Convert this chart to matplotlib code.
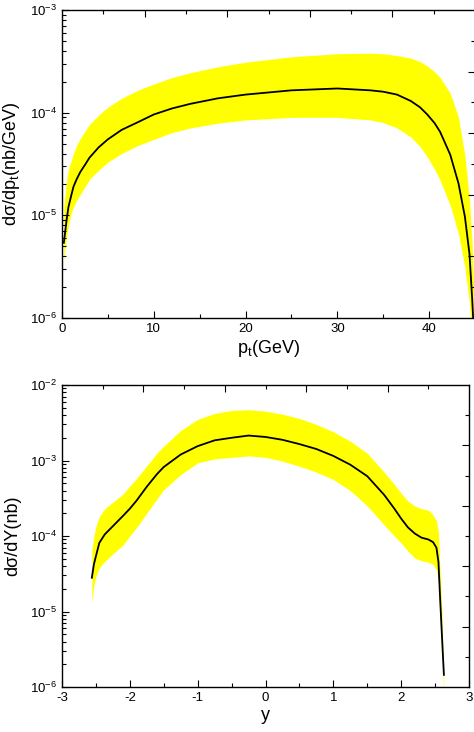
import matplotlib.pyplot as plt
import numpy as np
from matplotlib.ticker import LogLocator, MultipleLocator, NullFormatter, FixedLocator

plt.rcParams['font.family'] = ['Liberation Sans', 'DejaVu Sans']
plt.rcParams['mathtext.fontset'] = 'custom'
plt.rcParams['mathtext.rm'] = 'Liberation Sans'
plt.rcParams['mathtext.it'] = 'Liberation Sans:italic'
plt.rcParams['axes.unicode_minus'] = False

# top panel: pt distribution
pt = [0.2, 0.5, 0.7, 1.0, 1.25, 1.6, 2.0, 2.5, 3.0, 4.0, 5.0, 6.5, 8.3, 10, 12, 14, 17, 20, 25, 30,
      33.6, 35, 36.5, 38, 39, 39.8, 40.6, 41.2, 42.3, 43.2, 43.9, 44.4, 44.7, 44.85]
pt_mid = [5.4e-6, 9e-6, 1.2e-5, 1.55e-5, 1.9e-5, 2.25e-5, 2.65e-5, 3.1e-5, 3.65e-5, 4.6e-5,
          5.5e-5, 6.8e-5, 8.1e-5, 9.6e-5, 1.1e-4, 1.22e-4, 1.38e-4, 1.5e-4, 1.65e-4, 1.72e-4,
          1.65e-4, 1.6e-4, 1.5e-4, 1.3e-4, 1.13e-4, 9.6e-5, 7.9e-5, 6.5e-5, 3.9e-5, 2.05e-5,
          9.7e-6, 4.2e-6, 1.5e-6, 8e-7]
pt_hi = [1.2e-5, 2.2e-5, 2.8e-5, 3.4e-5, 4.0e-5, 4.8e-5, 5.6e-5, 6.6e-5, 7.7e-5, 9.5e-5,
         1.13e-4, 1.38e-4, 1.66e-4, 1.9e-4, 2.2e-4, 2.45e-4, 2.8e-4, 3.1e-4, 3.5e-4, 3.75e-4,
         3.8e-4, 3.75e-4, 3.6e-4, 3.4e-4, 3.15e-4, 2.85e-4, 2.5e-4, 2.2e-4, 1.55e-4, 9e-5,
         3.8e-5, 1.4e-5, 5e-6, 2e-6]
pt_lo = [3.6e-6, 6.2e-6, 8e-6, 1.05e-5, 1.2e-5, 1.4e-5, 1.6e-5, 1.9e-5, 2.25e-5, 2.75e-5,
         3.3e-5, 4.0e-5, 4.8e-5, 5.5e-5, 6.4e-5, 7.1e-5, 7.9e-5, 8.5e-5, 9e-5, 9e-5,
         8.5e-5, 8e-5, 7.1e-5, 5.8e-5, 4.7e-5, 3.7e-5, 2.8e-5, 2.2e-5, 1.25e-5, 6.6e-6,
         3.1e-6, 1.4e-6, 6e-7, 5e-7]

# bottom panel: rapidity distribution
rap = [-2.56, -2.53, -2.5, -2.45, -2.37, -2.25, -2.1, -2.0, -1.9, -1.75, -1.6, -1.5, -1.25,
       -1.0, -0.75, -0.5, -0.25, 0, 0.25, 0.5, 0.75, 1.0, 1.25, 1.5, 1.75, 1.9, 2.0, 2.1, 2.2,
       2.3, 2.4, 2.47, 2.52, 2.55, 2.57, 2.6, 2.63]
rap_mid = [2.8e-5, 4.2e-5, 5.4e-5, 8.1e-5, 1.05e-4, 1.35e-4, 1.85e-4, 2.3e-4, 2.95e-4, 4.5e-4,
           6.6e-4, 8.2e-4, 1.2e-3, 1.55e-3, 1.85e-3, 2.0e-3, 2.14e-3, 2.05e-3, 1.88e-3, 1.65e-3,
           1.42e-3, 1.15e-3, 8.8e-4, 6.2e-4, 3.5e-4, 2.3e-4, 1.7e-4, 1.3e-4, 1.08e-4, 9.5e-5,
           9e-5, 8.3e-5, 7e-5, 4.5e-5, 1.8e-5, 5e-6, 1.45e-6]
rap_hi = [6.6e-5, 1.0e-4, 1.35e-4, 1.8e-4, 2.3e-4, 2.8e-4, 3.6e-4, 4.6e-4, 5.8e-4, 8.5e-4,
          1.25e-3, 1.55e-3, 2.5e-3, 3.5e-3, 4.2e-3, 4.6e-3, 4.7e-3, 4.5e-3, 4.1e-3, 3.6e-3,
          3.0e-3, 2.4e-3, 1.8e-3, 1.25e-3, 7e-4, 4.8e-4, 3.7e-4, 2.9e-4, 2.5e-4, 2.3e-4,
          2.2e-4, 1.9e-4, 1.6e-4, 1.1e-4, 4e-5, 1e-5, 1e-6]
rap_lo = [1.3e-5, 2.2e-5, 2.9e-5, 3.8e-5, 4.6e-5, 5.8e-5, 7.6e-5, 1.0e-4, 1.3e-4, 2e-4,
          3.1e-4, 4.1e-4, 6.5e-4, 9.3e-4, 1.05e-3, 1.1e-3, 1.15e-3, 1.1e-3, 9.8e-4, 8.4e-4,
          7e-4, 5.6e-4, 4e-4, 2.5e-4, 1.4e-4, 1.0e-4, 8.1e-5, 6.3e-5, 5.1e-5, 4.7e-5,
          4.5e-5, 4.2e-5, 3.6e-5, 2.4e-5, 9e-6, 3e-6, 8e-7]

fig = plt.figure(figsize=(4.74, 7.32), dpi=100)
ax1 = fig.add_axes([62 / 474, 1 - 318 / 732, 413 / 474, 308 / 732])
ax2 = fig.add_axes([62 / 474, 1 - 687 / 732, 407 / 474, 302 / 732])


def style(ax, xmajor, xminor):
    ax.set_yscale('log')
    ax.xaxis.set_major_locator(MultipleLocator(xmajor))
    ax.xaxis.set_minor_locator(MultipleLocator(xminor))
    ax.yaxis.set_major_locator(LogLocator(base=10, numticks=10))
    ax.yaxis.set_minor_locator(LogLocator(base=10, subs=np.arange(2, 10), numticks=20))
    ax.yaxis.set_minor_formatter(NullFormatter())
    ax.tick_params(which='both', direction='in', labelsize=9.5, width=0.8)
    ax.tick_params(which='major', length=5)
    ax.tick_params(which='minor', length=3)
    for s in ax.spines.values():
        s.set_linewidth(1.0)
    # Origin-style decorative ticks on top and right
    tw = ax.inset_axes([0, 0, 1, 1])
    tw.patch.set_visible(False)
    tw.set_xlim(0, 1)
    tw.set_ylim(0, 1)
    for s in tw.spines.values():
        s.set_visible(False)
    tw.xaxis.tick_top()
    tw.yaxis.tick_right()
    tw.xaxis.set_major_locator(FixedLocator([0.2, 0.4, 0.6, 0.8]))
    tw.xaxis.set_minor_locator(FixedLocator([0.1, 0.3, 0.5, 0.7, 0.9]))
    tw.yaxis.set_major_locator(FixedLocator([0.2, 0.4, 0.6, 0.8]))
    tw.yaxis.set_minor_locator(FixedLocator([0.1, 0.3, 0.5, 0.7, 0.9]))
    tw.tick_params(which='both', direction='in', labeltop=False, labelright=False, width=0.8)
    tw.tick_params(which='major', length=5)
    tw.tick_params(which='minor', length=3)


ax1.fill_between(pt, pt_lo, pt_hi, color='#ffff00', lw=0)
ax1.plot(pt, pt_mid, color='black', lw=1.3)
ax1.set_xlim(0, 45)
ax1.set_ylim(1e-6, 1e-3)
style(ax1, 10, 5)
ax1.set_xlabel('p$_\\mathrm{t}$(GeV)', fontsize=13, labelpad=2)
ax1.set_ylabel('dσ/dp$_\\mathrm{t}$(nb/GeV)', fontsize=13, labelpad=6)

ax2.fill_between(rap, rap_lo, rap_hi, color='#ffff00', lw=0)
ax2.plot(rap, rap_mid, color='black', lw=1.3)
ax2.set_xlim(-3, 3)
ax2.set_ylim(1e-6, 1e-2)
style(ax2, 1, 0.5)
ax2.set_xlabel('y', fontsize=13, labelpad=2)
ax2.set_ylabel('dσ/dY(nb)', fontsize=13, labelpad=6)

fig.savefig('out.png', dpi=100)
